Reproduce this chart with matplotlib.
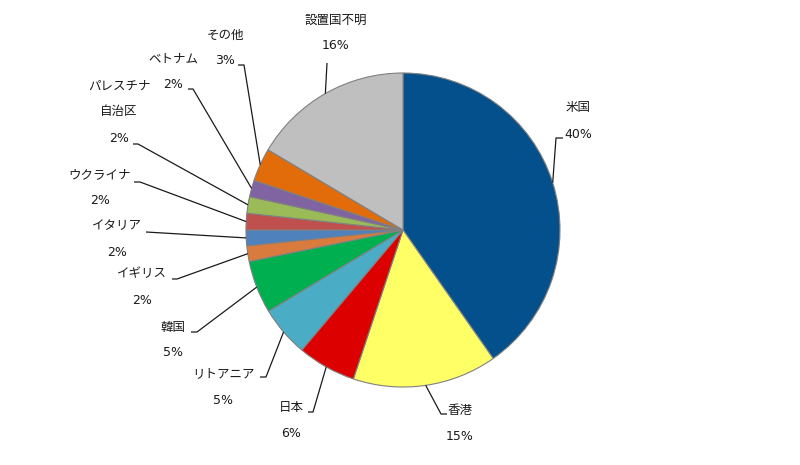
import numpy as np
import matplotlib
matplotlib.use('Agg')
import matplotlib.pyplot as plt

# DejaVu for digits/%, Noto CJK for the Japanese names
plt.rcParams['font.family'] = ['DejaVu Sans', 'Noto Sans CJK JP']

# 設置国別の割合 (図から読み取り、時計回り、12時から)
countries = ['米国', '香港', '日本', 'リトアニア', '韓国', 'イギリス', 'イタリア',
             'ウクライナ', 'パレスチナ\n自治区', 'ベトナム', 'その他', '設置国不明']
shares = [40.1, 14.8, 6.0, 5.2, 5.4, 1.6, 1.6, 1.7, 1.7, 1.7, 3.4, 16.4]
colors = ['#03508C', '#FFFF66', '#DD0000', '#4BACC6', '#00B050', '#D97B3C',
          '#4F81BD', '#C0504D', '#9BBB59', '#8064A2', '#E36C0A', '#BFBFBF']

# layout, in pixels from top-left of the 800x465 image
W, H = 800, 465
CX, CY, R = 403, 230, 157
LINE_GAP = 26
# centre of first label line
label_xy = [(578, 108), (460, 410), (291, 407), (223, 374), (173, 327), (142, 274),
            (117, 226), (100, 175), (119, 86), (173, 59), (225, 35), (336, 20)]
# leader line: (x at text, x at knee, y)
leaders = [(563, 556, 138), (447, 441, 414), (308, 313, 412), (260, 266, 377),
           (191, 197, 332), (172, 177, 279), (146, 146, 232), (134, 140, 182),
           (133, 138, 144), (188, 193, 89), (238, 244, 65), (327, 327, 63)]

fig = plt.figure(figsize=(8, 4.65), dpi=100)
ax = fig.add_axes([0, 0, 1, 1])

wedges, _ = ax.pie(shares, colors=colors, startangle=90, counterclock=False,
                   center=(CX, H - CY), radius=R,
                   wedgeprops={'linewidth': 0.8, 'edgecolor': '#808080'})
ax.set_xlim(0, W)
ax.set_ylim(0, H)
ax.set_aspect('equal')
ax.axis('off')

for w, name, val, (lx, ly), (x0, x1, yl) in zip(wedges, countries, shares, label_xy, leaders):
    # text lines
    lines = name.split('\n') + [f'{val:.0f}%']
    for i, t in enumerate(lines):
        ax.text(lx, H - (ly + i * LINE_GAP), t, ha='center', va='center',
                fontsize=9, color='#1a1a1a')
    # leader to the middle of the slice edge
    mid = np.deg2rad((w.theta1 + w.theta2) / 2)
    ax_x = CX + R * np.cos(mid)
    ax_y = (H - CY) + R * np.sin(mid)
    ax.plot([x0, x1, ax_x], [H - yl, H - yl, ax_y], color='#1a1a1a', lw=0.9,
            solid_capstyle='butt')

fig.savefig('out.png', dpi=100)
